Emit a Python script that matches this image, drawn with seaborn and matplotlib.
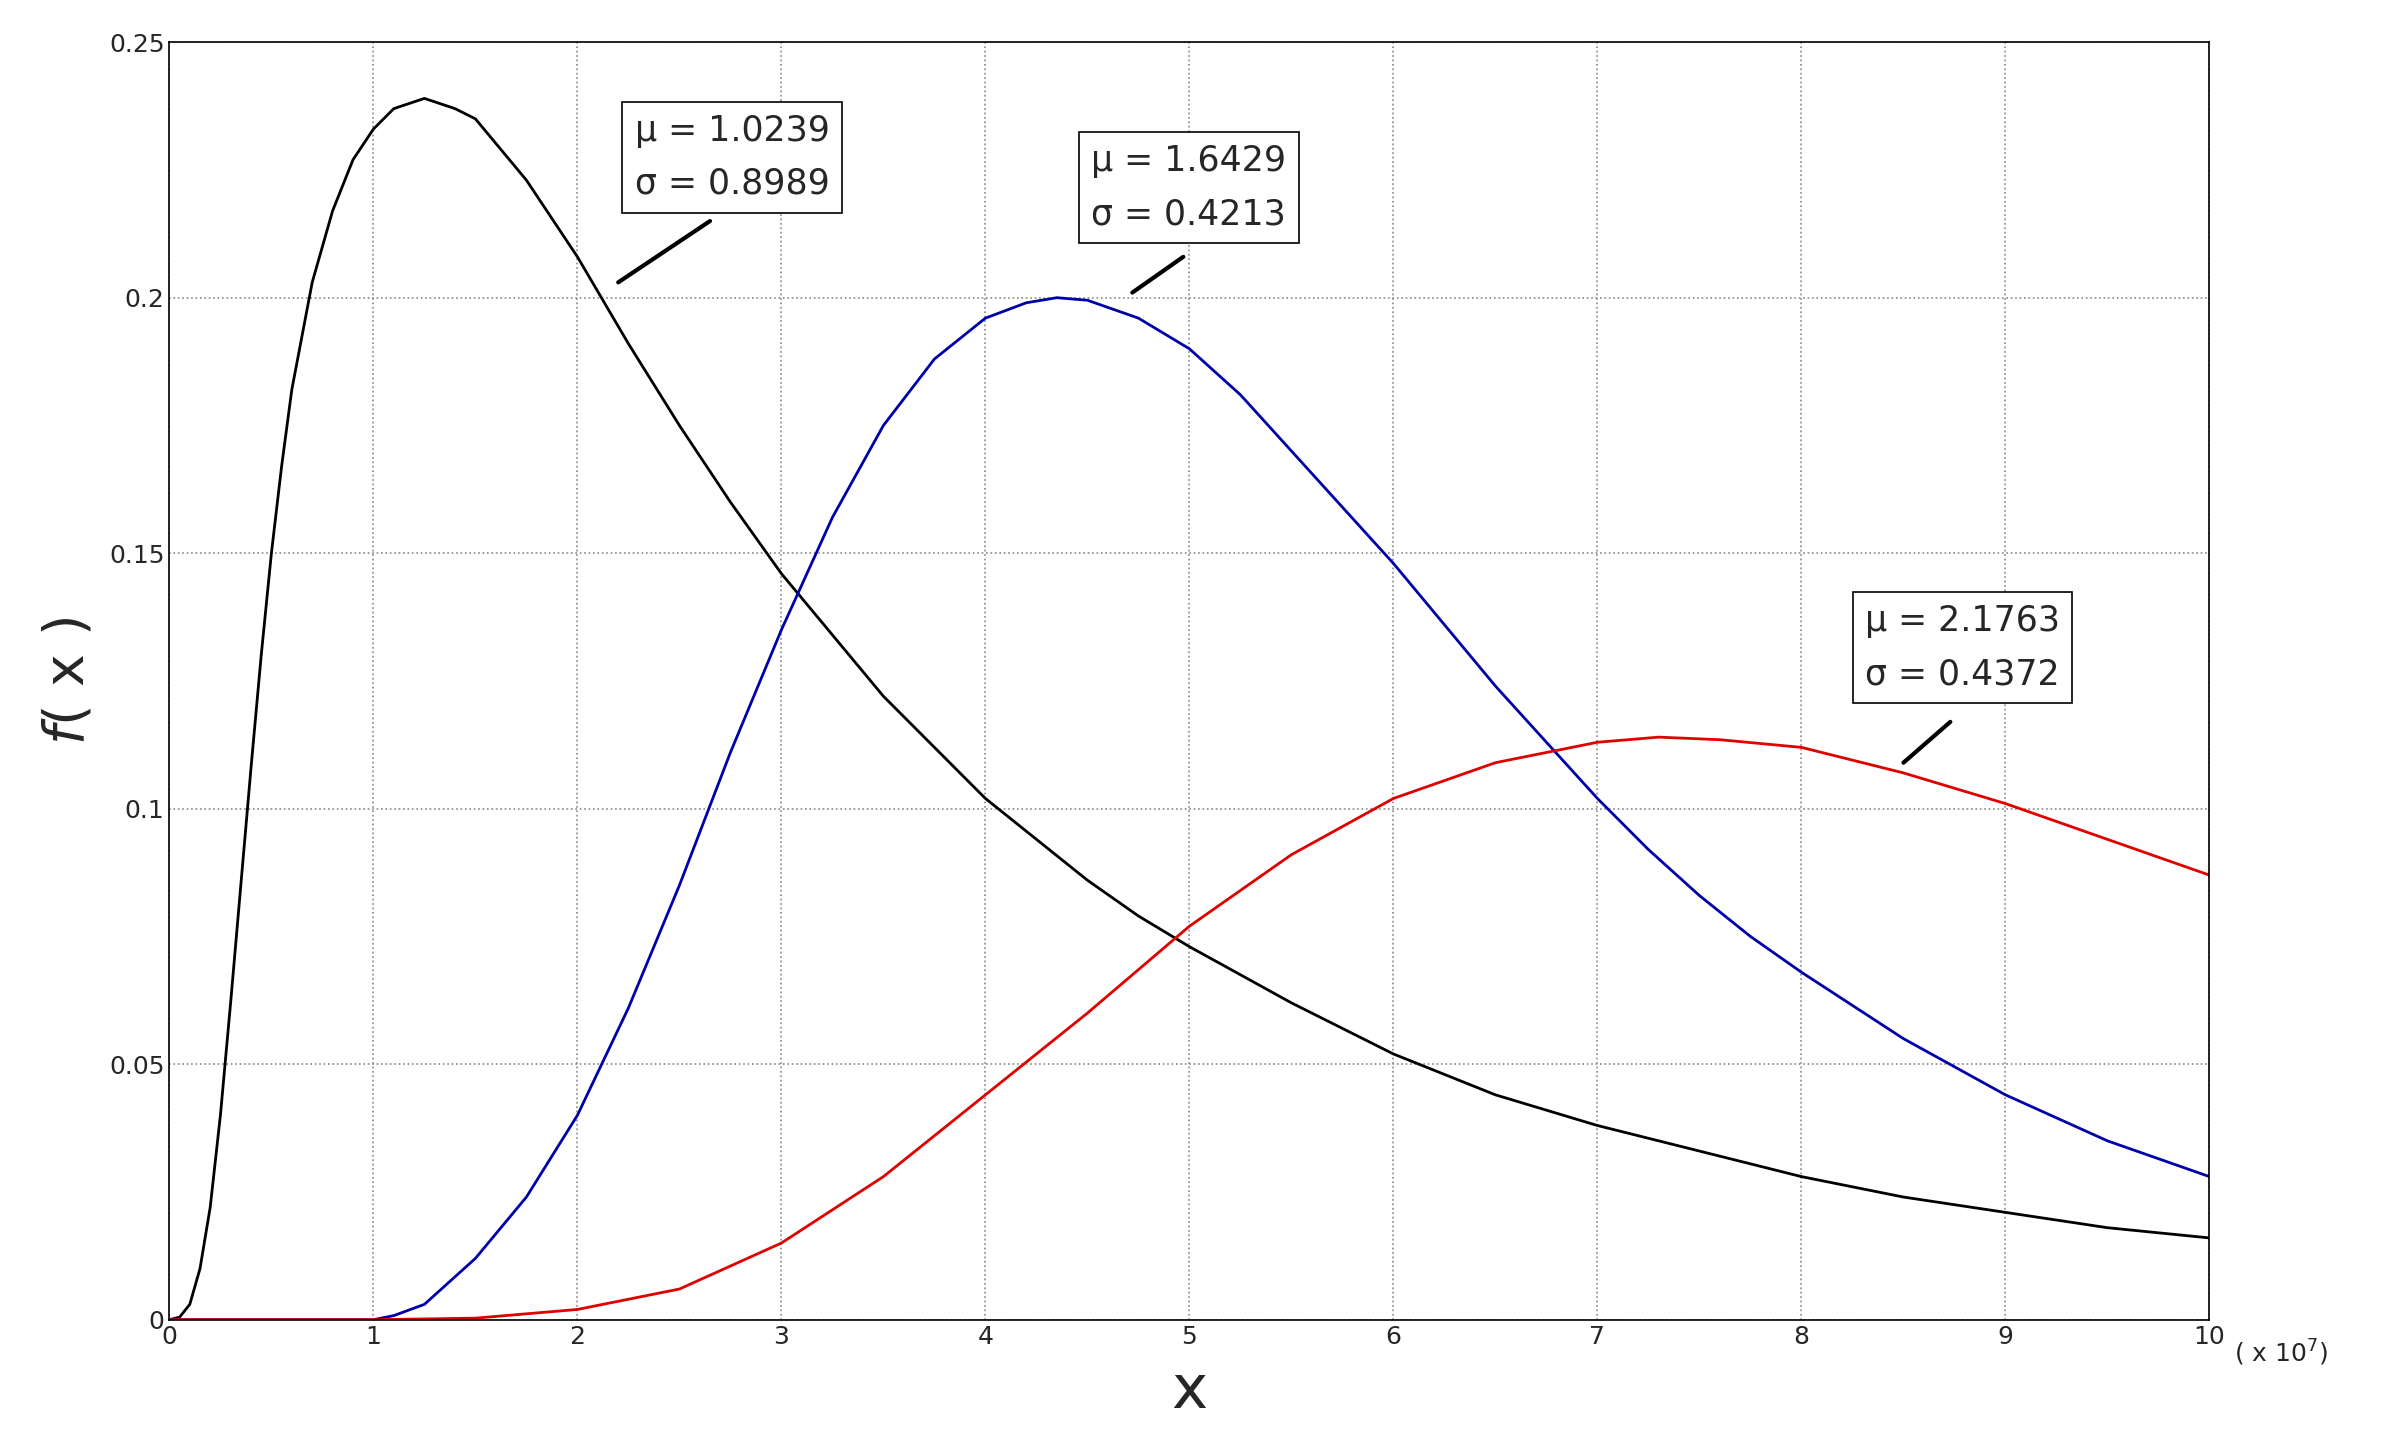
import seaborn as sns
import numpy as np
import pandas as pd
import matplotlib.pyplot as plt

# x in units of 1e7
black_x = [0, 0.05, 0.1, 0.15, 0.2, 0.25, 0.3, 0.35, 0.4, 0.45, 0.5, 0.55, 0.6, 0.7, 0.8, 0.9, 1.0, 1.1, 1.25, 1.4,
           1.5, 1.75, 2.0, 2.25, 2.5, 2.75, 3.0, 3.25, 3.5, 3.75, 4.0, 4.25, 4.5, 4.75, 5.0, 5.5, 6.0, 6.5, 7.0,
           7.5, 8.0, 8.5, 9.0, 9.5, 10.0]
black_y = [0, 0.0005, 0.003, 0.010, 0.022, 0.040, 0.062, 0.085, 0.108, 0.130, 0.150, 0.167, 0.182, 0.203, 0.217,
           0.227, 0.233, 0.237, 0.239, 0.237, 0.235, 0.223, 0.208, 0.191, 0.175, 0.160, 0.146, 0.134, 0.122, 0.112,
           0.102, 0.094, 0.086, 0.079, 0.073, 0.062, 0.052, 0.044, 0.038, 0.033, 0.028, 0.024, 0.021, 0.018, 0.016]

blue_x = [0, 0.5, 1.0, 1.1, 1.25, 1.5, 1.75, 2.0, 2.25, 2.5, 2.75, 3.0, 3.25, 3.5, 3.75, 4.0, 4.2, 4.35, 4.5, 4.75,
          5.0, 5.25, 5.5, 5.75, 6.0, 6.25, 6.5, 6.75, 7.0, 7.25, 7.5, 7.75, 8.0, 8.5, 9.0, 9.5, 10.0]
blue_y = [0, 0, 0, 0.0008, 0.003, 0.012, 0.024, 0.040, 0.061, 0.085, 0.111, 0.135, 0.157, 0.175, 0.188, 0.196,
          0.199, 0.200, 0.1995, 0.196, 0.190, 0.181, 0.170, 0.159, 0.148, 0.136, 0.124, 0.113, 0.102, 0.092, 0.083,
          0.075, 0.068, 0.055, 0.044, 0.035, 0.028]

red_x = [0, 1.0, 1.5, 2.0, 2.5, 3.0, 3.5, 4.0, 4.5, 5.0, 5.5, 6.0, 6.5, 7.0, 7.3, 7.6, 8.0, 8.5, 9.0, 9.5, 10.0]
red_y = [0, 0, 0.0003, 0.002, 0.006, 0.015, 0.028, 0.044, 0.060, 0.077, 0.091, 0.102, 0.109, 0.113, 0.114, 0.1135,
         0.112, 0.107, 0.101, 0.094, 0.087]

# text, line start, line end, box lower-left
labels = [("μ = 1.0239\nσ = 0.8989", (2.2, 0.203), (2.65, 0.215), (2.28, 0.219)),
          ("μ = 1.6429\nσ = 0.4213", (4.72, 0.201), (4.97, 0.208), (4.52, 0.213)),
          ("μ = 2.1763\nσ = 0.4372", (8.5, 0.109), (8.73, 0.117), (8.31, 0.123))]

sns.set_style("white")
fig = plt.figure(figsize=(23.86, 14.55), dpi=100)
ax = fig.add_axes([0.071, 0.093, 0.855, 0.878])

for xs, ys, c in [(black_x, black_y, "black"), (blue_x, blue_y, "#0000aa"), (red_x, red_y, "#e00000")]:
    df = pd.DataFrame({"x": xs, "y": ys})
    sns.lineplot(data=df, x="x", y="y", color=c, linewidth=2, ax=ax)

ax.set_xlim(0, 10)
ax.set_ylim(0, 0.25)
ax.set_xticks(range(11))
ax.set_yticks([0, 0.05, 0.1, 0.15, 0.2, 0.25])
ax.set_yticklabels(["0", "0.05", "0.1", "0.15", "0.2", "0.25"])
ax.tick_params(labelsize=18, direction="in", length=8)
ax.grid(True, linestyle=":", color="#888888", linewidth=1.2)
for s in ax.spines.values():
    s.set_color("black")
    s.set_linewidth(1.2)
ax.set_xlabel("x", fontsize=44, labelpad=10)
ax.set_ylabel("$f$( x )", fontsize=40, labelpad=10)
ax.text(10.12, -0.0035, "( x 10$^7$)", fontsize=18, va="top", ha="left")

for txt, p0, p1, pb in labels:
    ax.plot([p0[0], p1[0]], [p0[1], p1[1]], color="black", lw=3)
    ax.text(pb[0], pb[1], txt, fontsize=25, ha="left", va="bottom", linespacing=1.7,
            bbox=dict(boxstyle="square,pad=0.35", fc="white", ec="black", lw=1.2))

fig.savefig("out.png", dpi=100, facecolor="white")
